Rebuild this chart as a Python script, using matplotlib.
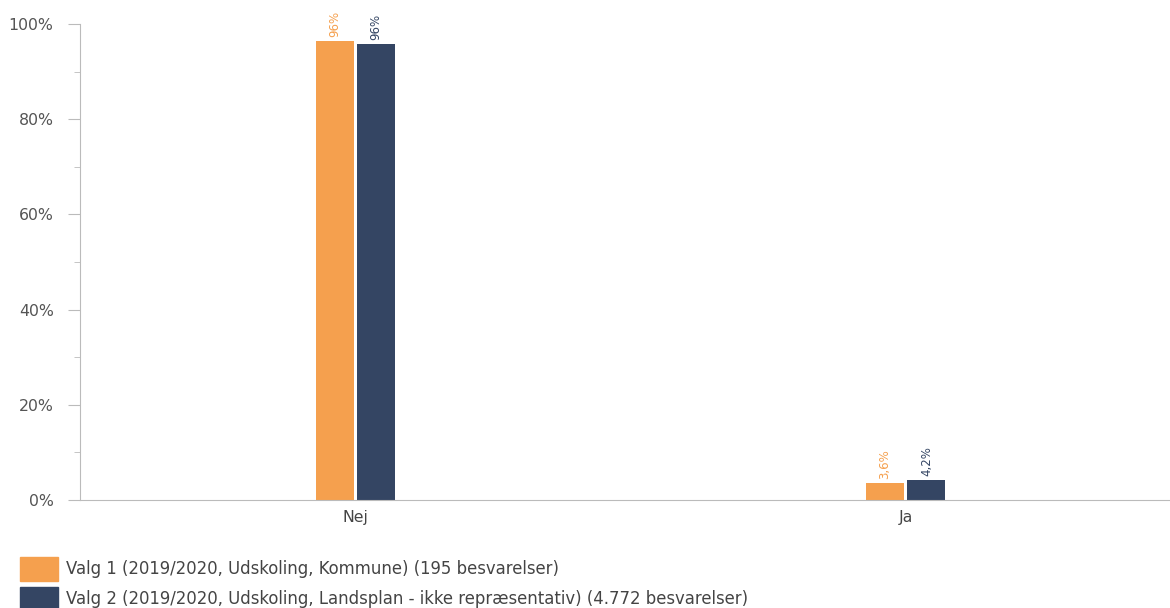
import matplotlib
matplotlib.use("Agg")
import matplotlib.pyplot as plt
from matplotlib.patches import Rectangle
import numpy as np

categories = ["Nej", "Ja"]
valg1 = [96.4, 3.6]
valg2 = [95.8, 4.2]
labels1 = ["96%", "3,6%"]
labels2 = ["96%", "4,2%"]
series_names = [
    "Valg 1 (2019/2020, Udskoling, Kommune) (195 besvarelser)",
    "Valg 2 (2019/2020, Udskoling, Landsplan - ikke repræsentativ) (4.772 besvarelser)",
]
colors = ["#F5A04E", "#344563"]

plt.rcParams["font.family"] = ["DejaVu Sans"]

W, H = 1170, 608
fig = plt.figure(figsize=(W / 100, H / 100), dpi=100)
ax = fig.add_axes([80 / W, 108 / H, 1090 / W, 476 / H])

x = np.arange(len(categories))
w = 0.069
gap = 0.003
b1 = ax.bar(x - w / 2 - gap, valg1, w, color=colors[0])
b2 = ax.bar(x + w / 2 + gap, valg2, w, color=colors[1])

for bars, labs, c in [(b1, labels1, colors[0]), (b2, labels2, colors[1])]:
    for bar, lab in zip(bars, labs):
        ax.text(bar.get_x() + bar.get_width() / 2, bar.get_height() + 0.8, lab,
                rotation=90, ha="center", va="bottom", fontsize=8.5, color=c)

ax.set_xlim(-0.5, 1.48)
ax.set_ylim(0, 100)
ax.set_yticks(np.arange(0, 101, 20))
ax.set_yticks(np.arange(10, 100, 20), minor=True)
ax.set_yticklabels([f"{v}%" for v in range(0, 101, 20)])
ax.set_xticks(x)
ax.set_xticklabels(categories)

for s in ["top", "right"]:
    ax.spines[s].set_visible(False)
for s in ["left", "bottom"]:
    ax.spines[s].set_color("#BBBBBB")
ax.tick_params(axis="y", which="both", color="#BBBBBB", labelcolor="#555555",
               labelsize=11.3, length=9, pad=10)
ax.tick_params(axis="y", which="minor", length=4)
ax.tick_params(axis="x", length=0, labelcolor="#444444", labelsize=11.3, pad=7)

# legend drawn in figure pixels below the axes
for i, (name, c) in enumerate(zip(series_names, colors)):
    yc = 569 + i * 30
    fig.patches.append(Rectangle((20 / W, (H - yc - 12) / H), 38 / W, 24 / H,
                                 transform=fig.transFigure, color=c))
    fig.text(66 / W, (H - yc) / H, name, fontsize=11.9, color="#444444", va="center")

fig.savefig("out.png", dpi=100)
